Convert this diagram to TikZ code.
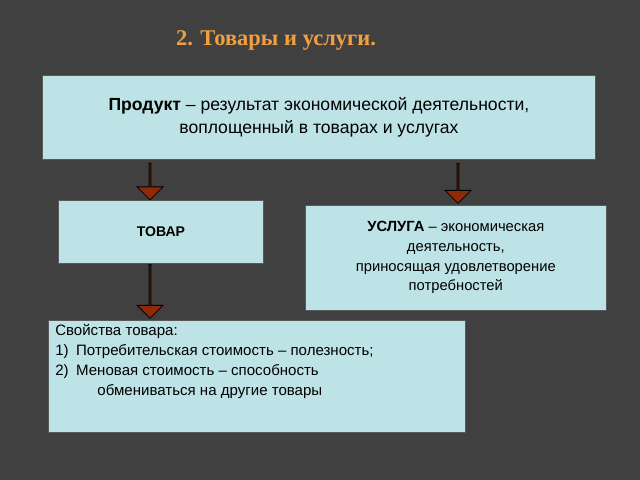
\documentclass[tikz,border=0pt]{standalone}
\usepackage{fontspec}
\setmainfont{Liberation Sans}
\newfontfamily\titlefont{Liberation Serif}
\usetikzlibrary{shapes.arrows}
\definecolor{bg}{HTML}{404040}
\definecolor{boxc}{HTML}{BEE3E6}
\definecolor{titc}{HTML}{F0A040}
\definecolor{arrc}{HTML}{8E2A08}
\begin{document}
\begin{tikzpicture}[x=0.025cm,y=-0.025cm,
  box/.style={draw=gray!70!black,fill=boxc,inner sep=0pt,align=center,anchor=north west},
  blockarrow/.style={single arrow,draw=black,fill=arrc,shape border rotate=270,minimum width=26*0.709pt,single arrow head extend=6*0.709pt,single arrow head indent=0pt,inner sep=0pt,line width=0.6pt}]
\fill[bg] (0,0) rectangle (640,480);
\useasboundingbox (0,0) rectangle (640,480);
\node (title) at (276,40) {\titlefont\bfseries\fontsize{16}{19}\selectfont\color{titc}2. Товары и услуги.};
\node[box,minimum width=555*0.709pt,minimum height=84*0.709pt,font=\fontsize{12.5}{16}\selectfont] (prod) at (42,75) {\textbf{Продукт} -- результат экономической деятельности,\\ воплощенный в товарах и услугах};
\node[box,minimum width=206*0.709pt,minimum height=63*0.709pt,font=\bfseries\fontsize{10}{12}\selectfont] (tovar) at (58,200) {ТОВАР};
\node[box,minimum width=302*0.709pt,minimum height=105*0.709pt,font=\fontsize{10.5}{14}\selectfont] (usl) at (305,205) {\textbf{УСЛУГА} -- экономическая\\ деятельность,\\ приносящая удовлетворение\\ потребностей};
\node[box,minimum width=418*0.709pt,minimum height=112*0.709pt,align=left,text width=410*0.709pt,font=\fontsize{10.7}{14}\selectfont,anchor=north west] (svo) at (48,320) {};
\node[anchor=north west,align=left,inner sep=0pt,font=\fontsize{10.7}{14.2}\selectfont] (svotext) at (55,324) {Свойства товара:\\1)\enspace Потребительская стоимость -- полезность;\\2)\enspace Меновая стоимость -- способность\\\hspace*{30pt}обмениваться на другие товары};
\node[blockarrow,minimum height=37*0.709pt] (a1) at (150,181) {};
\node[blockarrow,minimum height=40*0.709pt] (a2) at (458,183) {};
\node[blockarrow,minimum height=54*0.709pt] (a3) at (150,291) {};
\end{tikzpicture}
\end{document}
